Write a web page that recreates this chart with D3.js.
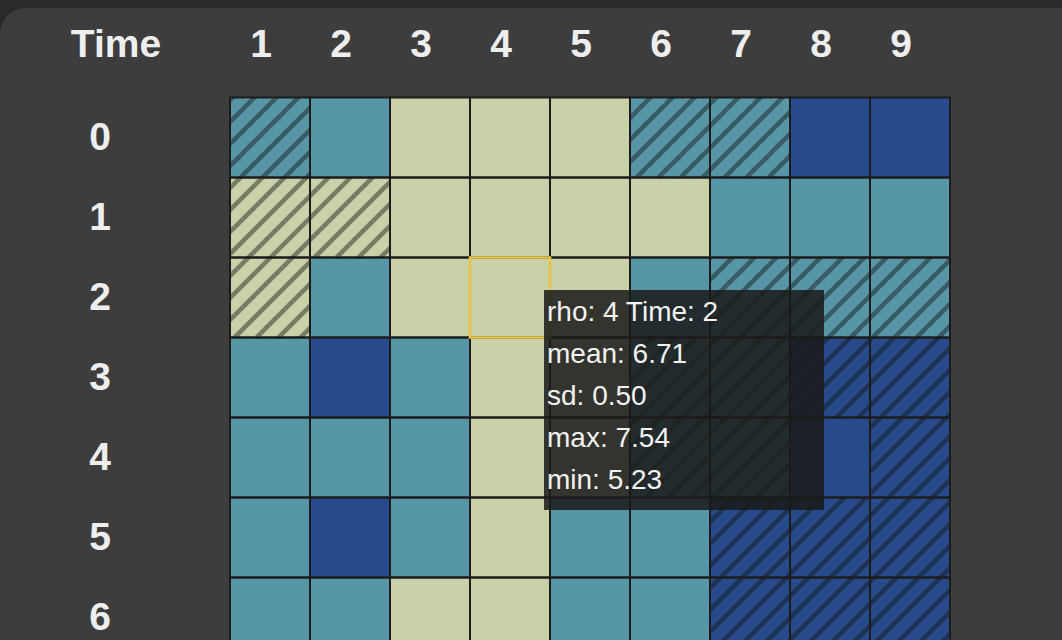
<!DOCTYPE html>
<html>
<head>
<meta charset="utf-8">
<script src="https://cdn.jsdelivr.net/npm/d3@7"></script>
<style>
	html, body { margin: 0; padding: 0; background: #2a2a2a; overflow: hidden; }
	svg { display: block; font-family: "Liberation Sans", Arial, Helvetica, sans-serif; }
</style>
</head>
<body>
<div id="heat"></div>
<script>
// rho along the top, Time down the side
var rhoValues = [1, 2, 3, 4, 5, 6, 7, 8, 9];
var timeValues = [0, 1, 2, 3, 4, 5, 6];

// mean per cell, one row per Time step
var meanRows = [
	[5.1, 5.3, 6.4, 6.6, 6.5, 5.6, 5.2, 3.4, 3.1],
	[6.2, 6.3, 6.8, 6.9, 6.7, 6.1, 5.4, 5.0, 4.7],
	[6.1, 5.8, 6.5, 6.71, 6.3, 5.7, 5.2, 4.8, 4.5],
	[5.5, 3.8, 5.6, 6.4, 6.2, 5.5, 4.9, 3.7, 3.3],
	[5.4, 5.2, 5.7, 6.3, 6.1, 5.3, 4.6, 3.9, 3.5],
	[5.2, 3.9, 5.4, 6.2, 5.9, 5.1, 3.6, 3.2, 2.9],
	[5.0, 4.8, 6.0, 6.1, 5.8, 4.9, 3.5, 3.0, 2.8]
];

// 1 = striped cell
var hatchRows = [
	[1, 0, 0, 0, 0, 1, 1, 0, 0],
	[1, 1, 0, 0, 0, 0, 0, 0, 0],
	[1, 0, 0, 0, 0, 0, 1, 1, 1],
	[0, 0, 0, 0, 0, 1, 1, 1, 1],
	[0, 0, 0, 0, 0, 1, 1, 0, 1],
	[0, 0, 0, 0, 0, 0, 1, 1, 1],
	[0, 0, 0, 0, 0, 0, 1, 1, 1]
];

var meanBreaks = [4, 6];
var cellColors = ["#264a8a", "#5796a6", "#c9d1a8"];

// the cell under the mouse
var hovered = { rho: 4, time: 2, mean: 6.71, sd: 0.50, max: 7.54, min: 5.23 };

var W = 1062, H = 640;

var svg = d3.select("#heat").append("svg")
	.attr("width", W)
	.attr("height", H);

svg.append("rect")
	.attr("x", 0).attr("y", 8)
	.attr("width", W + 60).attr("height", H + 60)
	.attr("rx", 26).attr("ry", 26)
	.attr("fill", "#3d3d3d");

var defs = svg.append("defs");
var pat = defs.append("pattern")
	.attr("id", "stripes")
	.attr("patternUnits", "userSpaceOnUse")
	.attr("width", 22)
	.attr("height", 22);
pat.append("path")
	.attr("d", "M-5,5 L5,-5 M0,22 L22,0 M17,27 L27,17")
	.attr("stroke", "rgba(20,20,20,0.45)")
	.attr("stroke-width", 4.5);

var x = d3.scaleBand()
	.domain(rhoValues)
	.range([230, 950]);

var y = d3.scaleBand()
	.domain(timeValues)
	.range([97.5, 97.5 + 80 * timeValues.length]);

var color = d3.scaleThreshold()
	.domain(meanBreaks)
	.range(cellColors);

var cells = [];
timeValues.forEach(function(t, i) {
	rhoValues.forEach(function(r, j) {
		cells.push({ rho: r, time: t, mean: meanRows[i][j], hatch: hatchRows[i][j] });
	});
});

var g = svg.append("g");

g.selectAll("rect.cell")
	.data(cells)
	.enter().append("rect")
	.attr("class", "cell")
	.attr("x", function(d) { return x(d.rho); })
	.attr("y", function(d) { return y(d.time); })
	.attr("width", x.bandwidth())
	.attr("height", y.bandwidth())
	.attr("fill", function(d) { return color(d.mean); });

g.selectAll("rect.hatch")
	.data(cells.filter(function(d) { return d.hatch; }))
	.enter().append("rect")
	.attr("class", "hatch")
	.attr("x", function(d) { return x(d.rho); })
	.attr("y", function(d) { return y(d.time); })
	.attr("width", x.bandwidth())
	.attr("height", y.bandwidth())
	.attr("fill", "url(#stripes)");

g.selectAll("rect.border")
	.data(cells)
	.enter().append("rect")
	.attr("class", "border")
	.attr("x", function(d) { return x(d.rho); })
	.attr("y", function(d) { return y(d.time); })
	.attr("width", x.bandwidth())
	.attr("height", y.bandwidth())
	.attr("fill", "none")
	.attr("stroke", "#1c1c1c")
	.attr("stroke-width", 2);

// headers
var labelFont = "bold 39px 'Liberation Sans', Arial, sans-serif";

svg.append("text")
	.attr("x", 116).attr("y", 57)
	.attr("text-anchor", "middle")
	.style("font", labelFont)
	.attr("fill", "#eeeeee")
	.text("Time");

// column labels sit a little left of the cell centres
svg.selectAll("text.col")
	.data(rhoValues)
	.enter().append("text")
	.attr("class", "col")
	.attr("x", function(d) { return x(d) + x.bandwidth() / 2 - 9; })
	.attr("y", 57)
	.attr("text-anchor", "middle")
	.style("font", labelFont)
	.attr("fill", "#eeeeee")
	.text(function(d) { return d; });

svg.selectAll("text.row")
	.data(timeValues)
	.enter().append("text")
	.attr("class", "row")
	.attr("x", 100)
	.attr("y", function(d) { return y(d) + y.bandwidth() / 2 + 12; })
	.attr("text-anchor", "middle")
	.style("font", labelFont)
	.attr("fill", "#eeeeee")
	.text(function(d) { return d; });

// highlighted cell + tooltip
svg.append("rect")
	.attr("x", x(hovered.rho))
	.attr("y", y(hovered.time))
	.attr("width", x.bandwidth())
	.attr("height", y.bandwidth())
	.attr("fill", "none")
	.attr("stroke", "#e8c547")
	.attr("stroke-width", 2.5);

var tipX = x(hovered.rho) + x.bandwidth() - 6;
var tipY = y(hovered.time) + y.bandwidth() / 2 - 7.5;
var tip = svg.append("g").attr("transform", "translate(" + tipX + "," + tipY + ")");

tip.append("rect")
	.attr("width", 280)
	.attr("height", 220)
	.attr("fill", "rgba(26,26,26,0.86)");

var tipLines = [
	"rho: " + hovered.rho + " Time: " + hovered.time,
	"mean: " + hovered.mean.toFixed(2),
	"sd: " + hovered.sd.toFixed(2),
	"max: " + hovered.max.toFixed(2),
	"min: " + hovered.min.toFixed(2)
];

tip.selectAll("text")
	.data(tipLines)
	.enter().append("text")
	.attr("x", 3)
	.attr("y", function(d, i) { return 31 + i * 42; })
	.style("font", "28px 'Liberation Sans', Arial, sans-serif")
	.attr("fill", "#f2f2f2")
	.text(function(d) { return d; });
</script>
</body>
</html>
